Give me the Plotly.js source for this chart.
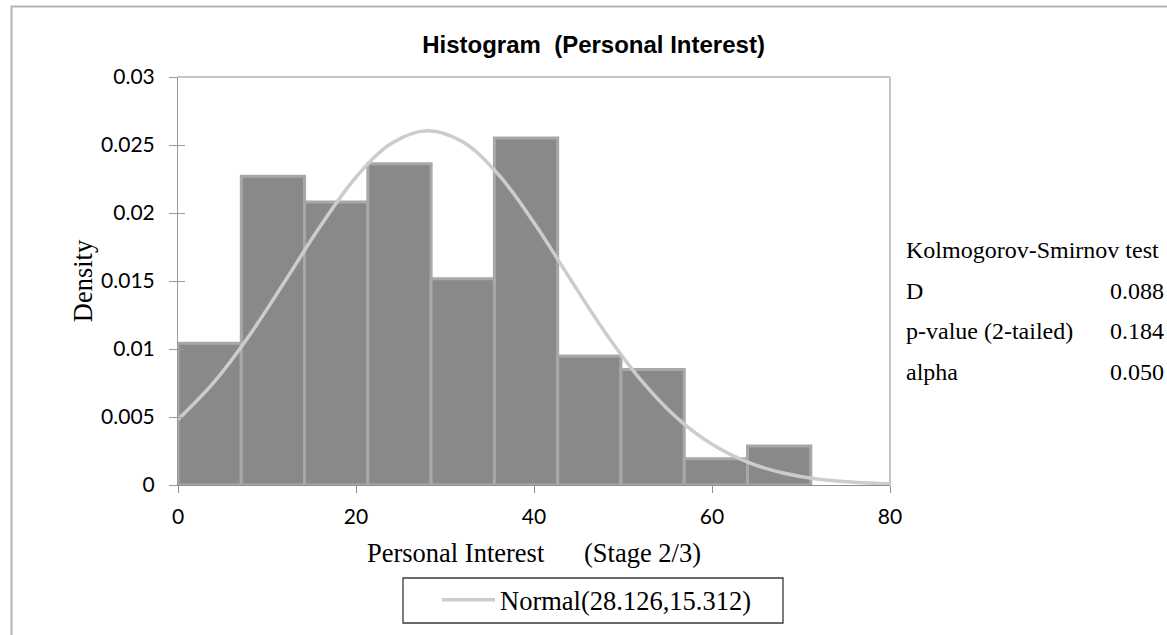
<!DOCTYPE html>
<html>
<head>
<meta charset="utf-8">
<script src="https://cdn.plot.ly/plotly-3.0.1.min.js"></script>
<style>
  html, body { margin: 0; padding: 0; background: #ffffff; }
  #chart { width: 1167px; height: 635px; }
</style>
</head>
<body>
<div id="chart"></div>
<script>
// ---- data ----
const binEdges = [0, 7.11, 14.22, 21.33, 28.44, 35.55, 42.66, 49.77, 56.88, 63.99, 71.1];
const density  = [0.01042, 0.02270, 0.02081, 0.02363, 0.01517, 0.02551, 0.00949, 0.00849, 0.00193, 0.00287];

const curveX = [0, 4, 8, 12, 16, 20, 24, 28, 32, 36, 40, 44, 48, 52, 56, 60, 64, 68, 72, 76, 80];
const curveY = [0.00482, 0.00753, 0.01098, 0.01496, 0.01904, 0.02263, 0.02513, 0.02605, 0.02523, 0.02283,
                0.01929, 0.01522, 0.01122, 0.00773, 0.00497, 0.00299, 0.00168, 0.00088, 0.00043, 0.00020, 0.00008];

const xTickVals = [0, 20, 40, 60, 80];
const xTickText = ['0', '20', '40', '60', '80'];
const yTickVals = [0, 0.005, 0.01, 0.015, 0.02, 0.025, 0.03];
const yTickText = ['0', '0.005', '0.01', '0.015', '0.02', '0.025', '0.03'];

const ksLabels = ['Kolmogorov-Smirnov test', 'D', 'p-value (2-tailed)', 'alpha'];
const ksValues = ['', '0.088', '0.184', '0.050'];

const chartTitle = 'Histogram \u00a0(Personal Interest)';
const xTitle = 'Personal Interest\u00a0\u00a0\u00a0\u00a0\u00a0\u00a0(Stage 2/3)';
const yTitle = 'Density';
const seriesName = 'Normal(28.126,15.312)';

// ---- derived ----
const binCenters = [], binWidths = [];
for (let i = 0; i < density.length; i++) {
  binCenters.push((binEdges[i] + binEdges[i + 1]) / 2);
  binWidths.push(binEdges[i + 1] - binEdges[i]);
}

// plot-area geometry (pixels)
const W = 1167, H = 635;
const L = 178, R = 890, T = 77, B = 485;
const px = v => (v - L) / (R - L);
const py = v => (B - v) / (B - T);

const serif = 'Liberation Serif, Times New Roman, serif';
const sans = 'Lato, Liberation Sans, Arial, sans-serif';

const traces = [
  {
    type: 'bar',
    x: binCenters,
    y: density,
    width: binWidths,
    marker: { color: '#898989', line: { color: '#a8a8a8', width: 3 } },
    showlegend: false,
    hoverinfo: 'skip'
  },
  {
    type: 'scatter',
    mode: 'lines',
    x: curveX,
    y: curveY,
    yaxis: 'y2',
    name: seriesName,
    line: { color: '#cccccc', width: 3.5, shape: 'spline' },
    showlegend: true
  }
];

const annotations = [];
ksLabels.forEach((lab, i) => {
  const yy = py(250 + i * 40.7);
  annotations.push({ xref: 'paper', yref: 'paper', x: px(904), y: yy, xanchor: 'left', yanchor: 'middle',
    text: lab, showarrow: false, font: { family: serif, size: 24, color: '#000' } });
  if (ksValues[i]) {
    annotations.push({ xref: 'paper', yref: 'paper', x: px(1108), y: yy, xanchor: 'left', yanchor: 'middle',
      text: ksValues[i], showarrow: false, font: { family: serif, size: 24, color: '#000' } });
  }
});

const layout = {
  width: W, height: H,
  margin: { l: L, r: W - R, t: T, b: H - B, autoexpand: false },
  paper_bgcolor: '#ffffff', plot_bgcolor: '#ffffff',
  barmode: 'overlay', bargap: 0,
  title: {
    text: chartTitle,
    xref: 'container', yref: 'container',
    x: 593.5 / W, y: 1 - 45 / H, xanchor: 'center', yanchor: 'middle',
    font: { family: 'Liberation Sans, Arial, sans-serif', size: 24, weight: 'bold', color: '#000' }
  },
  xaxis: {
    range: [0, 80], tickvals: xTickVals, ticktext: xTickText,
    showgrid: false, zeroline: false,
    showline: true, linecolor: '#8c8c8c', linewidth: 1,
    ticks: 'outside', ticklen: 7, tickcolor: '#8c8c8c', tickwidth: 1,
    ticklabelstandoff: 6,
    tickfont: { family: sans, size: 21, color: '#000' },
    title: { text: xTitle, standoff: 16, font: { family: serif, size: 26.5, color: '#000' } }
  },
  yaxis: {
    range: [0, 0.03], tickvals: yTickVals, ticktext: yTickText,
    showgrid: false, zeroline: false,
    showline: true, linecolor: '#999999', linewidth: 1,
    ticks: 'outside', ticklen: 8, tickcolor: '#999999', tickwidth: 1,
    ticklabelstandoff: 10,
    tickfont: { family: sans, size: 21, color: '#000' },
    title: { text: yTitle, standoff: 0, font: { family: serif, size: 26.5, color: '#000' } }
  },
  yaxis2: {
    overlaying: 'y', side: 'left', range: [0, 0.03], tickvals: yTickVals,
    showticklabels: false, showgrid: false, zeroline: false, showline: false,
    ticks: 'inside', ticklen: 7, tickcolor: '#999999', tickwidth: 1
  },
  showlegend: true,
  legend: {
    x: px(437), y: py(600), xanchor: 'left', yanchor: 'middle',
    xref: 'paper', yref: 'paper',
    bgcolor: 'rgba(0,0,0,0)', borderwidth: 0,
    itemwidth: 53,
    font: { family: serif, size: 26.5, color: '#000' }
  },
  shapes: [
    // outer chart frame
    { type: 'rect', xref: 'paper', yref: 'paper', x0: px(11.5), x1: px(1185), y0: py(650), y1: py(6.5),
      line: { color: '#b5b5b5', width: 2 }, fillcolor: 'rgba(0,0,0,0)', layer: 'below' },
    // plot area top and right borders
    { type: 'line', xref: 'paper', yref: 'paper', x0: 0, x1: 1, y0: 1, y1: 1,
      line: { color: '#c6c6c6', width: 2 }, layer: 'below' },
    { type: 'line', xref: 'paper', yref: 'paper', x0: 1, x1: 1, y0: 0, y1: 1,
      line: { color: '#c6c6c6', width: 2 }, layer: 'below' },
    // legend box
    { type: 'rect', xref: 'paper', yref: 'paper', x0: px(403), x1: px(783), y0: py(623), y1: py(578),
      line: { color: '#3a3a3a', width: 1.3 }, fillcolor: 'rgba(0,0,0,0)' }
  ],
  annotations: annotations
};

Plotly.newPlot('chart', traces, layout, { displayModeBar: false, staticPlot: true });
</script>
</body>
</html>
